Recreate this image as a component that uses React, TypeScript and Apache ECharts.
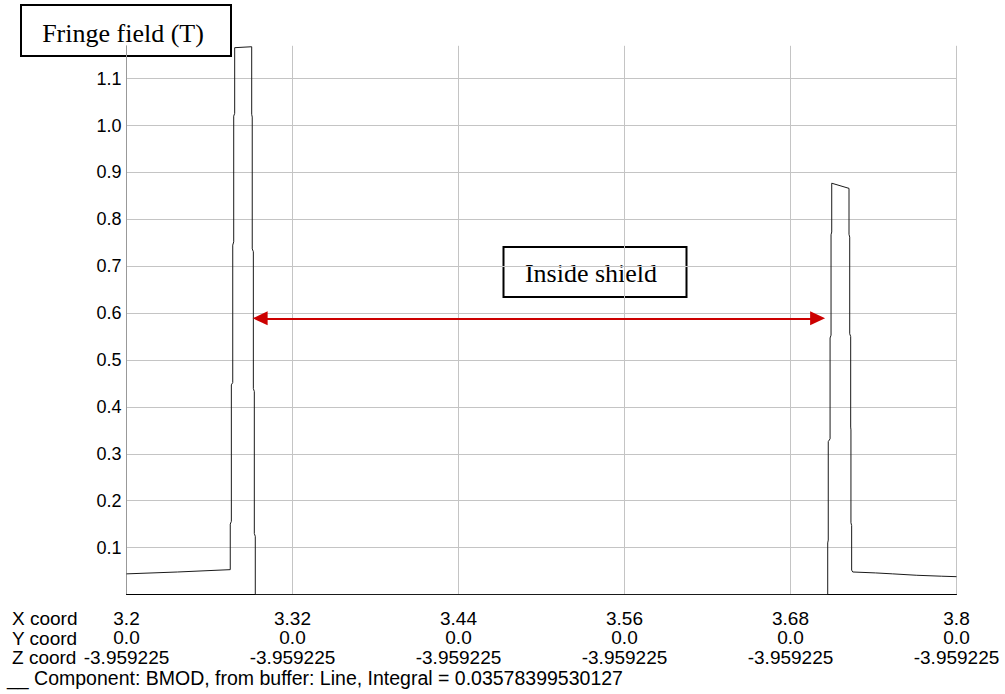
import React, { useEffect, useRef } from 'react';
import * as echarts from 'echarts';

// ---- Data ----
const X_TICK_LABELS = ['3.2', '3.32', '3.44', '3.56', '3.68', '3.8'];
const Y_COORD_LABELS = ['0.0', '0.0', '0.0', '0.0', '0.0', '0.0'];
const Z_COORD_LABELS = ['-3.959225', '-3.959225', '-3.959225', '-3.959225', '-3.959225', '-3.959225'];
const ROW_LABELS = ['X coord', 'Y coord', 'Z coord'];
const Y_TICK_LABELS = ['0.1', '0.2', '0.3', '0.4', '0.5', '0.6', '0.7', '0.8', '0.9', '1.0', '1.1'];

const X_MIN = 3.2;
const X_MAX = 3.8;
const X_STEP = 0.12;
const Y_MAX = 1.17;

// BMOD along the line (x coordinate, field in T)
const BMOD_X = [
  3.2, 3.237, 3.275,
  3.275, 3.2758, 3.2758, 3.2768, 3.2768, 3.2775, 3.2775, 3.2782, 3.2782,
  3.2905,
  3.2905, 3.2909, 3.2909, 3.2917, 3.2917, 3.2924, 3.2924, 3.2931, 3.2931,
  3.7069,
  3.7069, 3.7073, 3.7073, 3.7086, 3.7086, 3.7093, 3.7093, 3.7098, 3.7098,
  3.7223, 3.7223, 3.7228, 3.7228, 3.7235, 3.7235, 3.7237, 3.7237, 3.7242, 3.7242, 3.725,
  3.7416, 3.7539, 3.7713, 3.7893, 3.8,
];
const BMOD_Y = [
  0.044, 0.048, 0.053,
  0.150, 0.156, 0.447, 0.452, 0.745, 0.752, 1.020, 1.026, 1.166,
  1.168,
  1.024, 1.018, 0.737, 0.731, 0.439, 0.433, 0.130, 0.124, 0.0,
  0.0,
  0.110, 0.116, 0.326, 0.332, 0.547, 0.553, 0.767, 0.773, 0.877,
  0.866, 0.768, 0.762, 0.556, 0.550, 0.357, 0.351, 0.153, 0.147, 0.052, 0.048,
  0.046, 0.044, 0.041, 0.039, 0.038,
];

// Annotation arrow ("Inside shield" span), in data units
const ARROW_FROM = [3.2966, 0.589];
const ARROW_TO = [3.6996, 0.589];

const TITLE = 'Fringe field (T)';
const NOTE = 'Inside shield';
const LEGEND = '__ Component: BMOD, from buffer: Line, Integral = 0.03578399530127';

const SANS = '"Liberation Sans", Arial, sans-serif';
const SERIF = '"Liberation Serif", "Times New Roman", serif';

export default function App() {
  const ref = useRef<HTMLDivElement>(null);

  useEffect(() => {
    if (!ref.current) return;
    const chart = echarts.init(ref.current, null, { renderer: 'svg' });
    const points = BMOD_X.map((x, i) => [x, BMOD_Y[i]]);

    chart.setOption({
      animation: false,
      backgroundColor: '#ffffff',
      grid: { left: 126.5, right: 48.5, top: 45.8, bottom: 99.5, outerBoundsMode: 'none' },
      xAxis: {
        type: 'value',
        min: X_MIN,
        max: X_MAX,
        interval: X_STEP,
        axisLine: { show: true, lineStyle: { color: '#000', width: 1 } },
        axisTick: { show: false },
        splitLine: { show: true, showMinLine: false, lineStyle: { color: '#c4c4c4', width: 1 } },
        axisLabel: {
          interval: 0,
          margin: 14,
          fontSize: 19,
          lineHeight: 19.5,
          color: '#000',
          fontFamily: SANS,
          formatter: (v: number) => {
            const i = Math.round((v - X_MIN) / X_STEP);
            if (i < 0 || i >= X_TICK_LABELS.length) return '';
            return `${X_TICK_LABELS[i]}\n${Y_COORD_LABELS[i]}\n${Z_COORD_LABELS[i]}`;
          },
        },
      },
      yAxis: {
        type: 'value',
        min: 0,
        max: Y_MAX,
        interval: 0.1,
        axisLine: { show: true, lineStyle: { color: '#999', width: 1 } },
        axisTick: { show: false },
        splitLine: { show: true, showMinLine: false, showMaxLine: false, lineStyle: { color: '#c4c4c4', width: 1 } },
        axisLabel: {
          margin: 5,
          fontSize: 18,
          color: '#000',
          fontFamily: SANS,
          formatter: (v: number) => {
            const i = Math.round(v * 10) - 1;
            if (Math.abs(v * 10 - Math.round(v * 10)) > 1e-6) return '';
            return i >= 0 && i < Y_TICK_LABELS.length ? Y_TICK_LABELS[i] : '';
          },
        },
      },
      series: [
        {
          type: 'line',
          data: points,
          symbol: 'none',
          lineStyle: { color: '#1a1a1a', width: 1 },
          z: 3,
          markLine: {
            silent: true,
            symbol: ['triangle', 'triangle'],
            symbolSize: [14, 15],
            label: { show: false },
            lineStyle: { color: '#cc0000', width: 2, type: 'solid' },
            data: [[{ coord: ARROW_FROM }, { coord: ARROW_TO }]],
          },
        },
      ],
      graphic: [
        {
          type: 'group',
          z: 100,
          children: [
            {
              type: 'rect',
              shape: { x: 21, y: 5, width: 210, height: 51 },
              style: { fill: '#fff', stroke: '#000', lineWidth: 2 },
            },
            {
              type: 'text',
              x: 123,
              y: 33.5,
              style: { text: TITLE, font: `26px ${SERIF}`, fill: '#000', align: 'center', verticalAlign: 'middle' },
            },
            {
              type: 'rect',
              shape: { x: 503.5, y: 247, width: 183, height: 50 },
              style: { fill: '#fff', stroke: '#000', lineWidth: 2 },
            },
            {
              type: 'text',
              x: 591,
              y: 273,
              style: { text: NOTE, font: `26px ${SERIF}`, fill: '#000', align: 'center', verticalAlign: 'middle' },
            },
            ...ROW_LABELS.map((t, i) => ({
              type: 'text',
              x: 12,
              y: 618.5 + i * 19.5,
              style: { text: t, font: `19px ${SANS}`, fill: '#000', align: 'left', verticalAlign: 'middle' },
            })),
            {
              type: 'text',
              x: 7,
              y: 678,
              style: { text: LEGEND, font: `19.5px ${SANS}`, fill: '#000', align: 'left', verticalAlign: 'middle' },
            },
          ],
        },
      ],
    });

    return () => chart.dispose();
  }, []);

  return (
    <div
      ref={ref}
      style={{ position: 'absolute', left: 0, top: 0, width: 1005, height: 694, background: '#fff' }}
    />
  );
}
